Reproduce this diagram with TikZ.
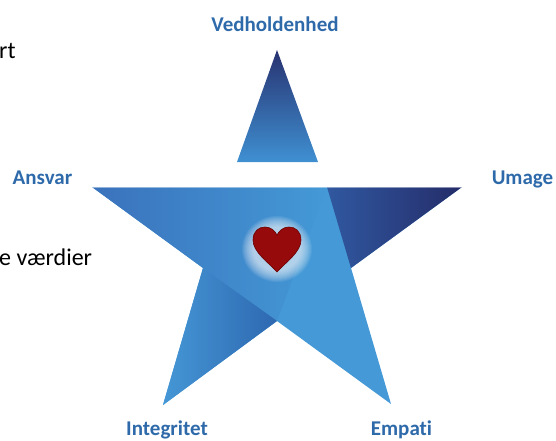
\documentclass[tikz,border=0pt]{standalone}
\usepackage{fontspec}
\setmainfont{Carlito}[Ligatures=NoCommon]
\definecolor{labelblue}{RGB}{46,106,170}
\definecolor{lightb}{RGB}{68,153,214}
\definecolor{medb}{RGB}{58,114,188}
\definecolor{darkw}{RGB}{48,88,160}
\definecolor{navy}{RGB}{37,44,105}
\definecolor{legdark}{RGB}{46,104,176}
\definecolor{legl}{RGB}{69,151,214}
\definecolor{toptop}{RGB}{40,50,112}
\definecolor{topmid}{RGB}{48,92,165}
\definecolor{topbot}{RGB}{63,144,210}
\definecolor{heartred}{RGB}{150,10,12}
\definecolor{heartedge}{RGB}{105,0,0}
\begin{document}
\begin{tikzpicture}[x=1pt,y=-1pt,
  lbl/.style={font=\bfseries\fontsize{21}{25}\selectfont, text=labelblue, inner sep=0pt, anchor=base},
  bodytext/.style={font=\fontsize{24}{28}\selectfont, text=black, inner sep=0pt, anchor=base west}]
\useasboundingbox (0,0) rectangle (556,441);
% key points
\coordinate (L) at (92,187);
\coordinate (R) at (462,187);
\coordinate (RI) at (351,268);
\coordinate (BR) at (391,404);
\coordinate (BI) at (277,321);
\coordinate (BL) at (163,405);
\coordinate (LI) at (203,268);
\coordinate (D) at (327,187);
\coordinate (TA) at (277,50);
\coordinate (TL) at (237,162);
\coordinate (TR) at (318,162);
% star body
\fill[lightb] (L) -- (R) -- (RI) -- (BR) -- (BI) -- (BL) -- (LI) -- cycle;
% upper-left band
\shade[left color=medb, right color=lightb] (L) -- (D) -- (BI) -- (LI) -- cycle;
% dark right wedge
\shade[left color=darkw, right color=navy] (D) -- (R) -- (RI) -- cycle;
% left leg
\shade[left color=legl, right color=legdark] (LI) -- (BL) -- (BI) -- cycle;
% top highlight
\draw[white, opacity=0.45, line width=0.8pt] (L) -- (R);
% top triangle
\shade[top color=toptop, middle color=topmid, bottom color=topbot] (TA) -- (TR) -- (TL) -- cycle;
% glow
\foreach \r in {0,...,11}
  \fill[white, opacity=0.075] (277,249) ellipse ({35-\r} and {33-\r});
% heart
\fill[heartred, draw=heartedge, line width=0.6pt]
  (277,272) .. controls (268,262) and (253,252) .. (253,240)
  .. controls (253,231) and (259,227) .. (265,227)
  .. controls (271,227) and (275,231) .. (277,235)
  .. controls (279,231) and (283,227) .. (289,227)
  .. controls (295,227) and (301,231) .. (301,240)
  .. controls (301,252) and (286,262) .. (277,272) -- cycle;
% labels
\node[lbl] (ved) at (275,32) {Vedholdenhed};
\node[lbl] (ans) at (42.5,184) {Ansvar};
\node[lbl] (uma) at (522.5,184) {Umage};
\node[lbl] (int) at (167,435) {Integritet};
\node[lbl] (emp) at (401.5,435) {Empati};
% cropped slide text
\node[bodytext] (rt) at (-1,59) {rt};
\node[bodytext] (vae) at (-1,265) {e værdier};
\end{tikzpicture}
\end{document}
